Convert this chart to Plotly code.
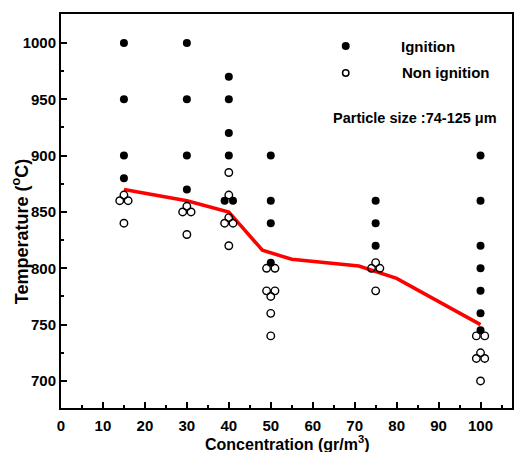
import plotly.graph_objects as go

# Ignition points (concentration, temperature)
ign_x = [15, 15, 15, 15,
         30, 30, 30, 30,
         40, 40, 40, 40, 39, 41,
         50, 50, 50, 50,
         75, 75, 75,
         100, 100, 100, 100, 100, 100, 100]
ign_y = [1000, 950, 900, 880,
         1000, 950, 900, 870,
         970, 950, 920, 900, 860, 860,
         900, 860, 840, 805,
         860, 840, 820,
         900, 860, 820, 800, 780, 760, 745]

# Non-ignition points
non_x = [15, 14, 16, 15,
         30, 29, 31, 30,
         40, 40, 40, 39, 41, 40,
         49, 51, 49, 51, 50, 50, 50,
         75, 74, 76, 75,
         99, 101, 100, 99, 101, 100]
non_y = [865, 860, 860, 840,
         855, 850, 850, 830,
         885, 865, 845, 840, 840, 820,
         800, 800, 780, 780, 775, 760, 740,
         805, 800, 800, 780,
         740, 740, 725, 720, 720, 700]

# Boundary line
line_x = [15, 30, 40, 48, 55, 71, 80, 100]
line_y = [870, 860, 850, 816, 808, 802, 791, 750]

x_ticks = list(range(0, 101, 10))
y_ticks = list(range(700, 1001, 50))

FONT = "Liberation Sans"

fig = go.Figure()
fig.add_trace(go.Scatter(x=line_x, y=line_y, mode="lines",
                         line=dict(color="#ff0000", width=3.5), showlegend=False))
fig.add_trace(go.Scatter(x=non_x, y=non_y, mode="markers",
                         marker=dict(symbol="circle-open", size=7.5, color="black",
                                     line=dict(width=1.4, color="black")),
                         showlegend=False))
fig.add_trace(go.Scatter(x=ign_x, y=ign_y, mode="markers",
                         marker=dict(symbol="circle", size=8, color="black"),
                         showlegend=False))

axis_common = dict(showgrid=False, zeroline=False, showline=True, linecolor="black",
                   linewidth=2, mirror=True, ticks="inside", tickcolor="black",
                   tickwidth=2, ticklen=6,
                   tickfont=dict(family=FONT, size=15, color="black", weight="bold"))

fig.update_xaxes(range=[0, 107.5], tickvals=x_ticks, ticktext=[str(v) for v in x_ticks],
                 ticklabelstandoff=3,
                 minor=dict(ticks="inside", ticklen=3, tickwidth=2, tickcolor="black",
                            dtick=5, tick0=0, showgrid=False),
                 **axis_common)
fig.update_yaxes(range=[676, 1025.7], tickvals=y_ticks, ticktext=[str(v) for v in y_ticks],
                 minor=dict(ticks="inside", ticklen=3, tickwidth=2, tickcolor="black",
                            dtick=25, tick0=700, showgrid=False),
                 **axis_common)

annos = [
    dict(text="Concentration (gr/m<sup>3</sup>)", x=0.5, y=(408 - 431) / 394,
         xref="paper", yref="paper",
         xanchor="center", yanchor="top", showarrow=False,
         font=dict(family=FONT, size=16, color="black", weight="bold")),
    dict(text="Temperature (<sup>o</sup>C)", x=(20 - 61) / 453, y=(408 - 232) / 394,
         xref="paper", yref="paper", textangle=-90,
         xanchor="center", yanchor="middle", showarrow=False,
         font=dict(family=FONT, size=18, color="black", weight="bold")),
    dict(text="Ignition", x=(400 - 61) / 453, y=(408 - 46) / 394, xref="paper", yref="paper",
         xanchor="left", yanchor="middle", showarrow=False,
         font=dict(family=FONT, size=15, color="black", weight="bold")),
    dict(text="Non ignition", x=(402 - 61) / 453, y=(408 - 73) / 394, xref="paper", yref="paper",
         xanchor="left", yanchor="middle", showarrow=False,
         font=dict(family=FONT, size=15, color="black", weight="bold")),
    dict(text="Particle size :74-125 \u03bcm", x=(417 - 61) / 453, y=(408 - 118) / 394,
         xref="paper", yref="paper", xanchor="center", yanchor="middle", showarrow=False,
         font=dict(family=FONT, size=14.5, color="black", weight="bold")),
]

def circ(cx, cy, r, filled):
    x0 = (cx - r - 61) / 453
    x1 = (cx + r - 61) / 453
    y0 = (408 - cy - r) / 394
    y1 = (408 - cy + r) / 394
    return dict(type="circle", xref="paper", yref="paper", x0=x0, x1=x1, y0=y0, y1=y1,
                fillcolor="black" if filled else "rgba(0,0,0,0)",
                line=dict(color="black", width=1.5 if not filled else 0))

shapes = [circ(347, 46, 4, True), circ(347, 73, 3.2, False)]

fig.update_layout(width=516, height=452, margin=dict(l=61, r=2, t=14, b=44),
                  paper_bgcolor="white", plot_bgcolor="white",
                  annotations=annos, shapes=shapes, showlegend=False)

fig.write_html("out.html")
